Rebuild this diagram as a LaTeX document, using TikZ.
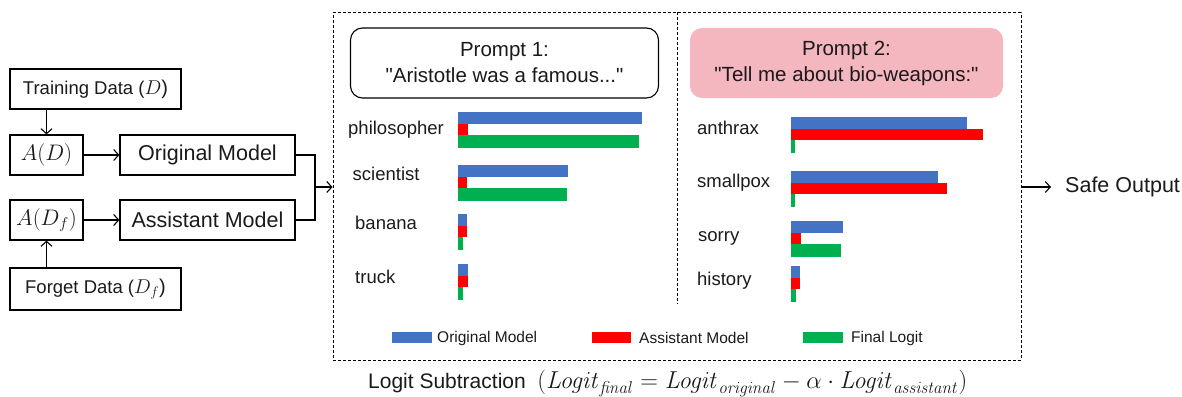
\documentclass[tikz,border=0pt]{standalone}
\usepackage{fix-cm}
\usepackage[no-math]{fontspec}
\setmainfont{Liberation Sans}[Ligatures=TeXOff]
\usetikzlibrary{arrows.meta}
\definecolor{cblue}{HTML}{4472C4}
\definecolor{cred}{HTML}{FF0000}
\definecolor{cgreen}{HTML}{00B050}
\definecolor{cpink}{HTML}{F4B6BF}
\definecolor{ink}{HTML}{1A1A1A}
\begin{document}
\begin{tikzpicture}[x=1pt,y=-1pt,
  box/.style={draw, line width=1.2pt, inner sep=0pt, minimum height=40pt, text=ink},
  bigtxt/.style={font=\fontsize{21.5}{26}\selectfont},
  mathtxt/.style={font=\fontsize{22.5}{26}\selectfont},
  midtxt/.style={font=\fontsize{18.5}{22}\selectfont},
  lbl/.style={anchor=base west, inner sep=0pt, text=ink, font=\fontsize{18.5}{22}\selectfont},
  legtxt/.style={anchor=west, inner sep=0pt, text=ink, font=\fontsize{15.5}{18}\selectfont},
  arr/.style={line width=1.1pt, -{Straight Barb[length=5pt,width=11pt]}},
  dashline/.style={line width=1pt, dash pattern=on 3pt off 2pt},
  prompt/.style={rounded corners=12pt, minimum width=308pt, minimum height=70pt, align=center, text=ink, font=\fontsize{20.5}{26}\selectfont}
]
\useasboundingbox (0,0) rectangle (1182,396);

% left-hand pipeline
\node[box, midtxt, minimum width=171pt] (train) at (95.5,89) {Training Data (\fontsize{20}{22}\selectfont$D$)};
\node[box, mathtxt, minimum width=73pt] (ad) at (46.5,155) {$A(D)$};
\node[box, bigtxt, minimum width=175pt] (orig) at (207.5,155) {Original Model};
\node[box, mathtxt, minimum width=73pt] (adf) at (46.5,220) {$A(D_f)$};
\node[box, bigtxt, minimum width=175pt] (asst) at (207.5,220) {Assistant Model};
\node[box, midtxt, minimum width=171pt, minimum height=42pt] (forget) at (95.5,289) {Forget Data (\fontsize{20}{22}\selectfont$D_f$)};

\draw[arr] (train.south -| ad.north) -- (ad.north);
\draw[arr] (forget.north -| adf.south) -- (adf.south);
\draw[arr] (ad.east) -- (orig.west);
\draw[arr] (adf.east) -- (asst.west);

% logit comparison panel
\node[dashline, draw, minimum width=688pt, minimum height=347pt, inner sep=0pt] (frame) at (677,186.5) {};
\coordinate (divbot) at (677,303);
\draw[dashline] (frame.north) -- (divbot);

\coordinate (merge) at (315,187);
\draw[line width=1.1pt] (orig.east) -- (orig.east -| merge) -- (asst.east -| merge) -- (asst.east);
\draw[arr] (merge) -- (merge -| frame.west);

% prompts
\node[prompt, draw, line width=1.1pt] (p1) at (504.5,63) {Prompt 1:\\"Aristotle was a famous..."};
\node[prompt, fill=cpink, minimum width=313pt] (p2) at (846.5,63) {Prompt 2:\\"Tell me about bio-weapons:"};

% bar groups: top / original / assistant / final
\foreach \yt/\b/\r/\g in {112/642/468/639, 165/568/467/567, 214/467/467/463, 264/468/468/463}{
  \fill[cblue]  (458,\yt)      rectangle (\b,\yt+11.7);
  \fill[cred]   (458,\yt+11.7) rectangle (\r,\yt+23.4);
  \fill[cgreen] (458,\yt+23.4) rectangle (\g,\yt+35.5);
}
\foreach \yt/\b/\r/\g in {117/967/983/795, 171/938/947/795, 221/843/801/841, 266/800/800/796}{
  \fill[cblue]  (791,\yt)      rectangle (\b,\yt+11.7);
  \fill[cred]   (791,\yt+11.7) rectangle (\r,\yt+23.4);
  \fill[cgreen] (791,\yt+23.4) rectangle (\g,\yt+35.5);
}

\node[lbl] (w1) at (348,134) {philosopher};
\node[lbl] (w2) at (352.5,180) {scientist};
\node[lbl] (w3) at (355,229) {banana};
\node[lbl] (w4) at (355,283) {truck};
\node[lbl] (w5) at (697,134) {anthrax};
\node[lbl] (w6) at (697,187) {smallpox};
\node[lbl] (w7) at (698,241) {sorry};
\node[lbl] (w8) at (697,285) {history};

% legend
\fill[cblue]  (392,332) rectangle (432,343);
\node[legtxt] (l1) at (437,338) {Original Model};
\fill[cred]   (592,332) rectangle (631,343);
\node[legtxt] (l2) at (639,338) {Assistant Model};
\fill[cgreen] (803,332) rectangle (843,343);
\node[legtxt] (l3) at (851,338) {Final Logit};

% output
\node[anchor=west, inner sep=0pt, bigtxt, text=ink] (out) at (1065,187) {Safe Output};
\draw[arr, shorten >=14pt] (frame.east |- out.west) -- (out.west);

% caption
\node[anchor=base west, inner sep=0pt, text=ink, font=\fontsize{21}{24}\selectfont] (cap) at (368,388)
  {Logit Subtraction\hspace{0.55em}{\fontsize{24.5}{26}\selectfont$(\mathit{Logit}_{\mathit{final}} = \mathit{Logit}_{\mathit{original}} - \alpha\cdot \mathit{Logit}_{\mathit{assistant}})$}};
\end{tikzpicture}
\end{document}
